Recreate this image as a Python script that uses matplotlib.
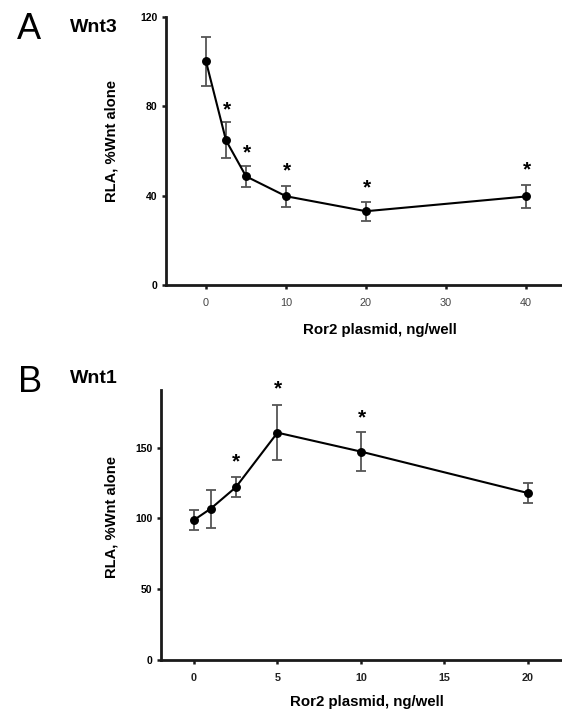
import matplotlib
matplotlib.use("Agg")
import matplotlib.pyplot as plt

plt.rcParams['font.family'] = ['Liberation Sans', 'DejaVu Sans']

# Panel A: Wnt3
a_x = [0, 2.5, 5, 10, 20, 40]
a_y = [100, 64.7, 48.6, 39.7, 33.0, 39.6]
a_err = [11, 8, 4.8, 4.8, 4.2, 5.2]
a_sig_x = [2.5, 5, 10, 20, 40]
a_sig_y = [81.3, 62, 54, 46.4, 54.3]
a_xticks = [0, 10, 20, 30, 40]
a_yticks = [0, 40, 80, 120]

# Panel B: Wnt1
b_x = [0, 1, 2.5, 5, 10, 20]
b_y = [98.8, 106.8, 121.9, 160.6, 147.2, 117.9]
b_err = [7, 13.5, 7.2, 19.6, 14, 7.2]
b_sig_x = [2.5, 5, 10]
b_sig_y = [144.6, 196.5, 175.7]
b_xticks = [0, 5, 10, 15, 20]
b_yticks = [0, 50, 100, 150]

W, H = 562, 711
fig = plt.figure(figsize=(W / 100, H / 100), dpi=100)


def fx(px):
    return px / W


def fy(py):
    return 1 - py / H


def panel(rect, x, y, err, sx, sy, xticks, yticks, xlim, ylim, xbold, xlab_pos, ylab_pos):
    ax = fig.add_axes(rect)
    ax.errorbar(x, y, yerr=err, fmt='none', ecolor='#555555', elinewidth=1.3,
                capsize=3.3, capthick=1.3, zorder=2)
    ax.plot(x, y, color='black', lw=1.5, marker='o', ms=5.4, mfc='black',
            mec='black', zorder=3, clip_on=False)
    for xi, yi in zip(sx, sy):
        ax.annotate('*', (xi, yi), xytext=(0.5, -0.58 * 15), textcoords='offset points',
                    ha='center', va='baseline', fontsize=15, fontweight='bold',
                    annotation_clip=False)
    ax.set_xlim(*xlim)
    ax.set_ylim(*ylim)
    ax.set_xticks(xticks)
    ax.set_yticks(yticks)
    for s in ['top', 'right']:
        ax.spines[s].set_visible(False)
    for s in ['left', 'bottom']:
        ax.spines[s].set_linewidth(2)
        ax.spines[s].set_color('#1a1a1a')
    ax.tick_params(axis='both', direction='out', length=3, width=1.8, color='#1a1a1a')
    ax.tick_params(axis='y', labelsize=7.5, pad=3)
    ax.tick_params(axis='x', labelsize=7.8, pad=6.5)
    for t in ax.get_yticklabels():
        t.set_fontweight('bold')
    for t in ax.get_xticklabels():
        if xbold:
            t.set_fontweight('bold')
            t.set_color('#222222')
        else:
            t.set_color('#444444')
    ax.set_xlabel('Ror2 plasmid, ng/well', fontsize=10.8, fontweight='bold')
    ax.set_ylabel('RLA, %Wnt alone', fontsize=10.6, fontweight='bold')
    ax.xaxis.set_label_coords(*xlab_pos)
    ax.yaxis.set_label_coords(*ylab_pos)
    return ax


# Panel A axes: left 166px, right 562px, top 16.7px, bottom 285px
axA_rect = [fx(166), fy(285), fx(562) - fx(166), fy(16.7) - fy(285)]
pA = panel(axA_rect, a_x, a_y, a_err, a_sig_x, a_sig_y, a_xticks, a_yticks,
           (-5, 44.5), (0, 120), False,
           ((380 - 166) / (562 - 166), -(323 - 285) / (285 - 16.7)),
           (-(166 - 118) / (562 - 166), (285 - 141) / (285 - 16.7)))

# Panel B axes: left 160.7px, right 561px, top 390px, bottom 659.5px
axB_rect = [fx(160.7), fy(659.5), fx(561) - fx(160.7), fy(390) - fy(659.5)]
pB = panel(axB_rect, b_x, b_y, b_err, b_sig_x, b_sig_y, b_xticks, b_yticks,
           (-2, 22), (0, 190.8), True,
           ((367 - 160.7) / (561 - 160.7), -(695 - 659.5) / (659.5 - 390)),
           (-(160.7 - 118) / (561 - 160.7), (659.5 - 517) / (659.5 - 390)))

fig.text(fx(17), fy(39), 'A', fontsize=26, ha='left', va='baseline')
fig.text(fx(70), fy(32), 'Wnt3', fontsize=14, fontweight='bold', ha='left', va='baseline')
fig.text(fx(18), fy(392), 'B', fontsize=26, ha='left', va='baseline')
fig.text(fx(70), fy(383), 'Wnt1', fontsize=14, fontweight='bold', ha='left', va='baseline')

fig.savefig('out.png', dpi=100)
